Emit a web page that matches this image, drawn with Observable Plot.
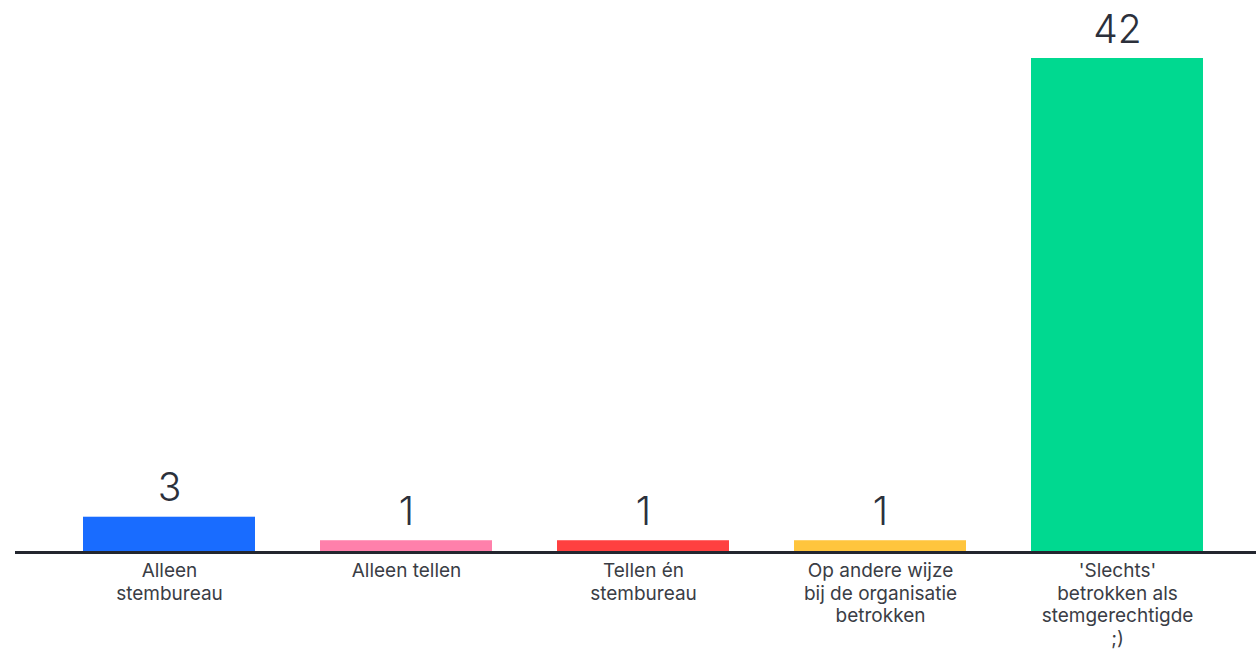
<!DOCTYPE html>
<html>
<head>
<meta charset="utf-8">
<script src="https://cdn.jsdelivr.net/npm/d3@7"></script>
<script src="https://cdn.jsdelivr.net/npm/@observablehq/plot@0.6"></script>
<style>
  html, body { margin: 0; padding: 0; background: #fff; }
  #chart svg { display: block; }
</style>
</head>
<body>
<div id="chart"></div>
<script>
const categories = [
  "Alleen stembureau",
  "Alleen tellen",
  "Tellen én stembureau",
  "Op andere wijze bij de organisatie betrokken",
  "'Slechts' betrokken als stemgerechtigde ;)"
];
const tickLabels = [
  "Alleen\nstembureau",
  "Alleen tellen",
  "Tellen én\nstembureau",
  "Op andere wijze\nbij de organisatie\nbetrokken",
  "'Slechts'\nbetrokken als\nstemgerechtigde\n;)"
];
const values = [3, 1, 1, 1, 42];
const colors = ["#196cff", "#ff80ab", "#ff4040", "#ffc53d", "#00d990"];

const data = categories.map((c, i) => ({category: c, value: values[i], label: tickLabels[i]}));
const labelOf = new Map(categories.map((c, i) => [c, tickLabels[i]]));

const chart = Plot.plot({
  width: 1256,
  height: 649,
  marginTop: 58,
  marginBottom: 97,
  marginLeft: 15,
  marginRight: 0,
  style: {fontFamily: "Inter, sans-serif", color: "#2b303b", background: "#fff"},
  x: {domain: categories, paddingInner: 0.276, paddingOuter: 0.252, align: 0.56, label: null},
  y: {domain: [0, 42], axis: null},
  color: {domain: categories, range: colors},
  marks: [
    Plot.barY(data, {x: "category", y: "value", fill: "category"}),
    Plot.ruleY([0], {stroke: "#23262f", strokeWidth: 3}),
    Plot.text(data, {x: "category", y: "value", text: d => String(d.value), lineAnchor: "bottom", dy: -16, fontSize: 39, fontWeight: 300, fill: "#2b303b"}),
    Plot.axisX({tickSize: 0, tickPadding: 9, fontSize: 19, lineHeight: 1.18, tickFormat: d => labelOf.get(d), fill: "#3a3d45", label: null})
  ]
});
document.getElementById("chart").append(chart);
</script>
</body>
</html>
